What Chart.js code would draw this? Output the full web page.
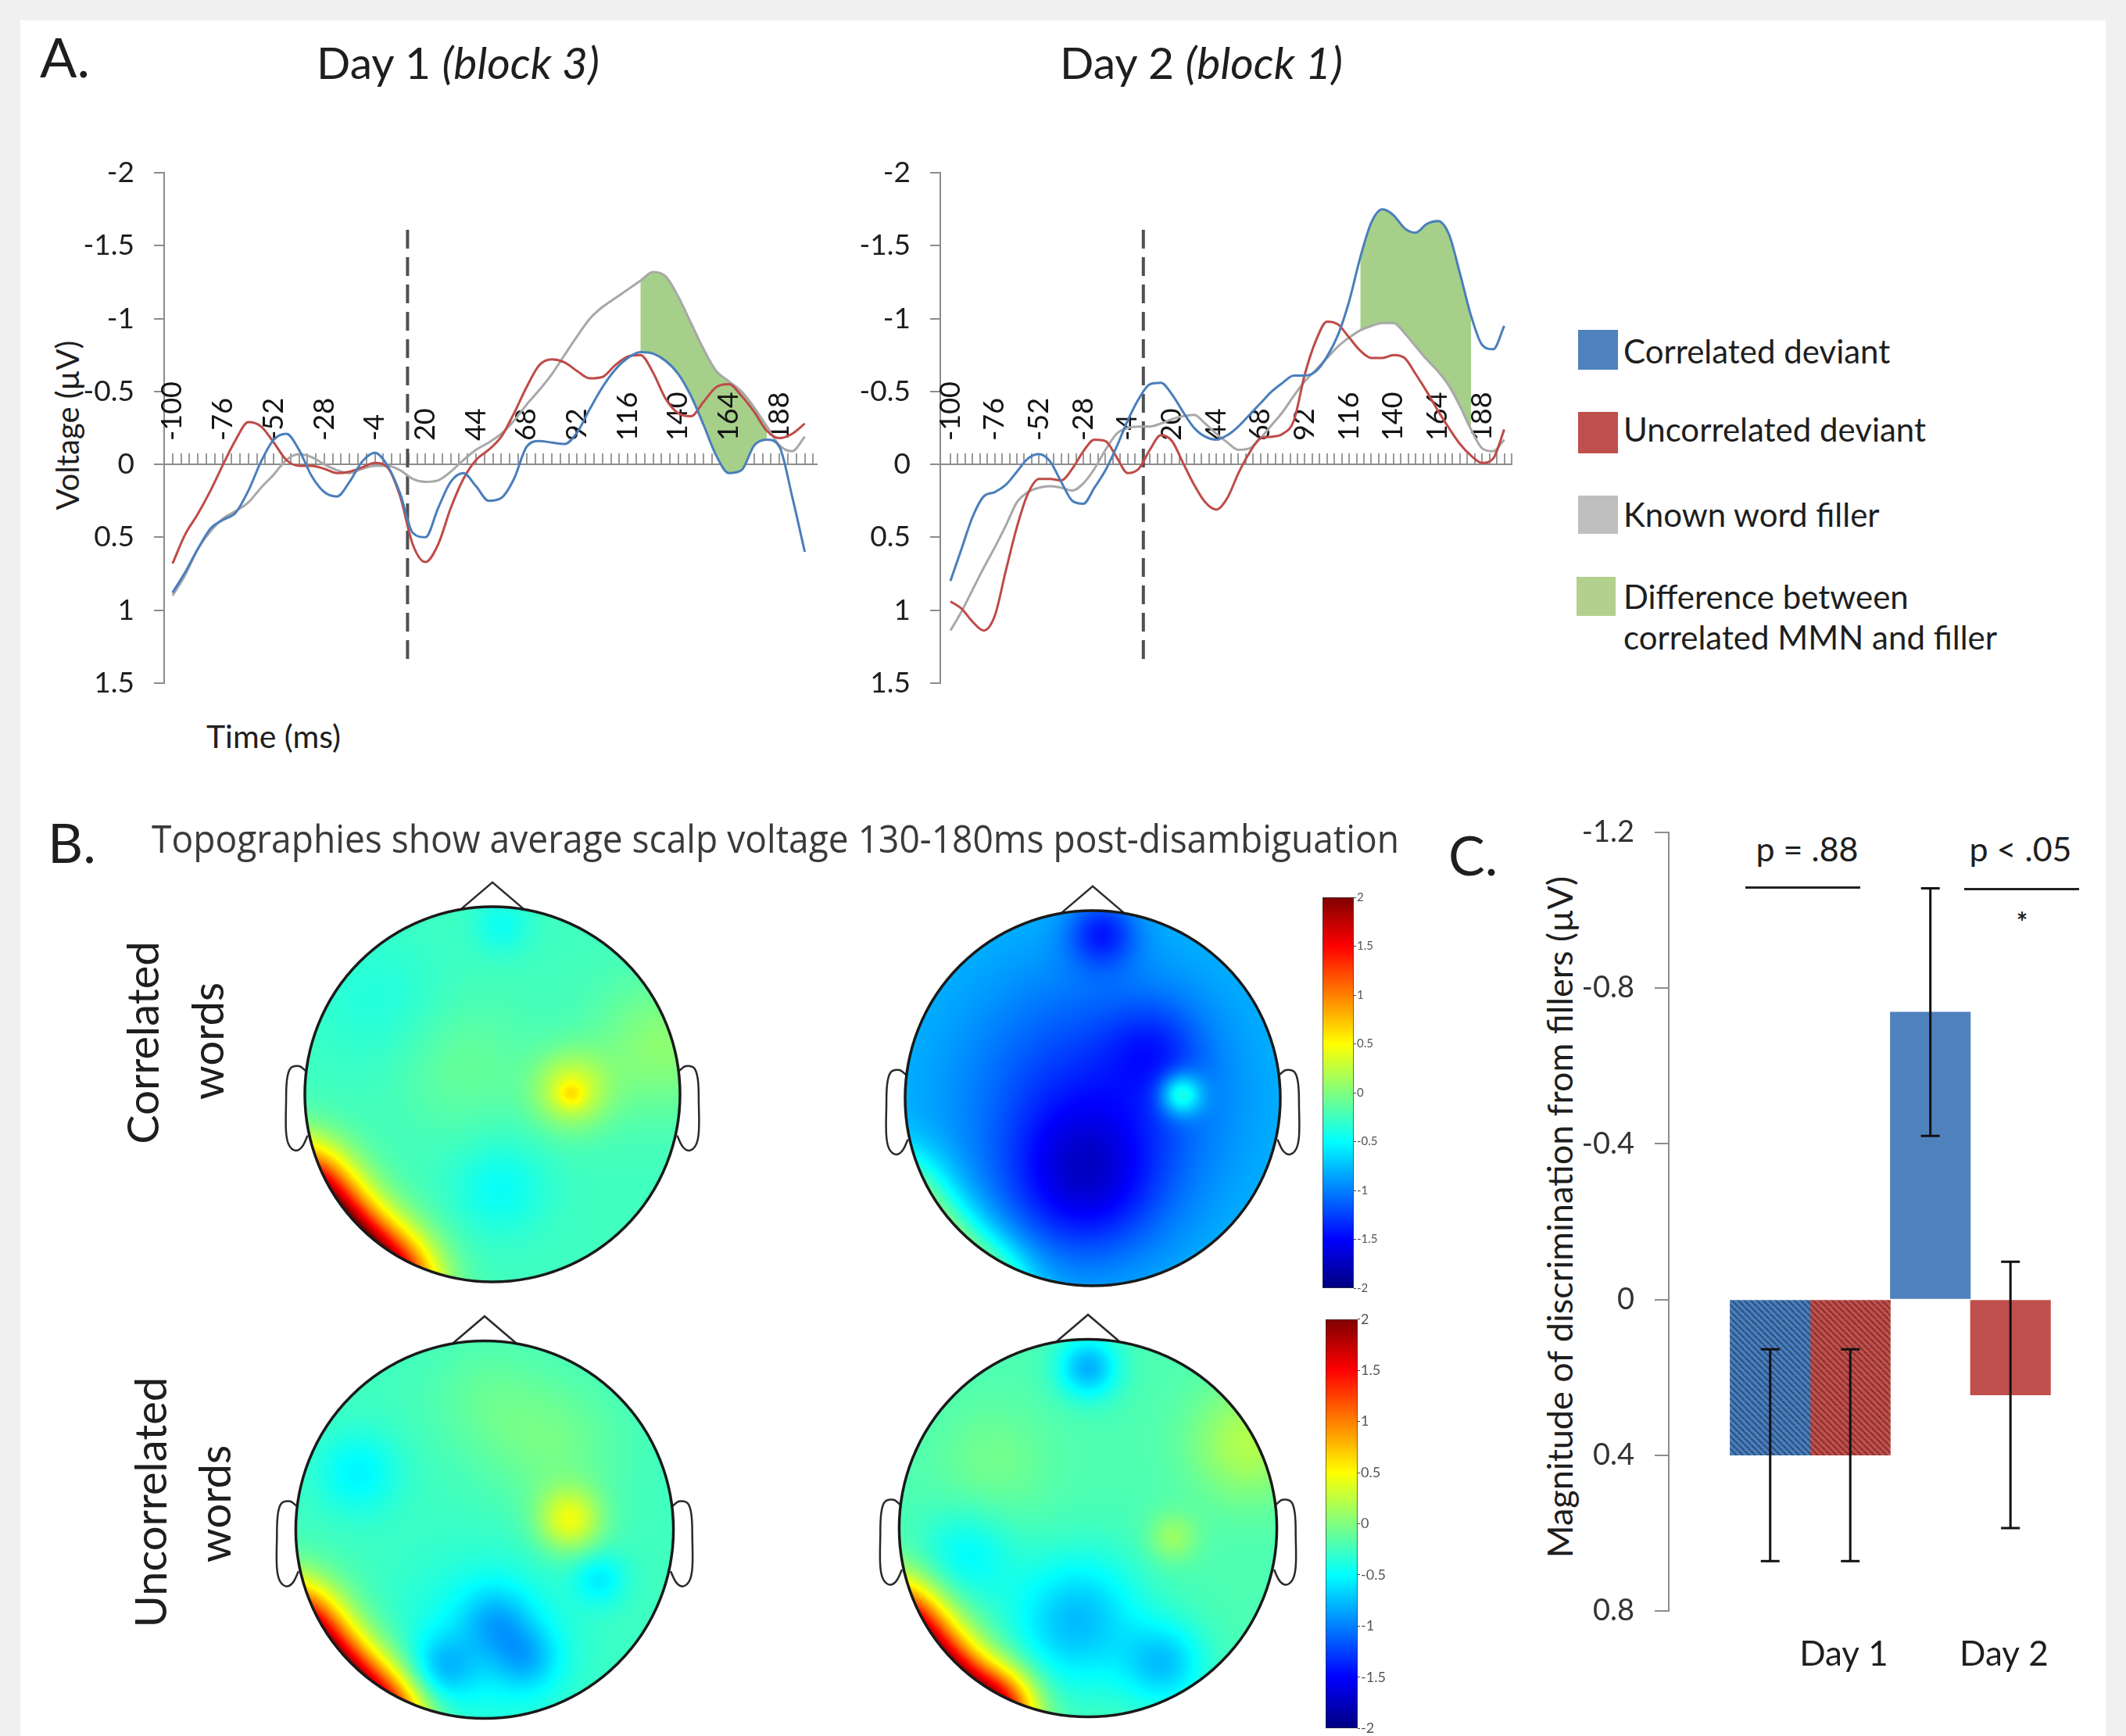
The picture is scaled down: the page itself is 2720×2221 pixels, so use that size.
<!DOCTYPE html>
<html><head><meta charset="utf-8">
<script src="https://cdn.jsdelivr.net/npm/chart.js@4.4.1/dist/chart.umd.min.js"></script>
<style>
html,body{margin:0;padding:0;}
body{width:2720px;height:2221px;background:#f0f0f0;position:relative;overflow:hidden;font-family:Lato,sans-serif;color:#1e1e1e;}
#panel{position:absolute;left:26px;top:26px;width:2668px;height:2195px;background:#fff;}
.t{position:absolute;white-space:nowrap;line-height:1;}
.c{transform:translateX(-50%);}
.rot{transform:translate(-50%,-50%) rotate(-90deg);}
canvas{position:absolute;}
.sq{position:absolute;}
.hl{position:absolute;height:3px;background:#222;}
</style></head><body>
<div id="panel"></div>

<div class="t" style="left:51px;top:37px;font-size:70px;">A.</div>
<div class="t c" style="left:586px;top:51px;font-size:57px;">Day 1 <i>(block 3)</i></div>
<div class="t c" style="left:1537px;top:51px;font-size:57px;">Day 2 <i>(block 1)</i></div>
<div class="t c" style="left:350px;top:921px;font-size:41px;">Time (ms)</div>
<div class="t rot" style="left:86px;top:544px;font-size:40px;">Voltage (µV)</div>

<div class="sq" style="left:2019px;top:422px;width:51px;height:51px;background:#4f81bd;"></div>
<div class="sq" style="left:2019px;top:527px;width:51px;height:53px;background:#c0504d;"></div>
<div class="sq" style="left:2019px;top:634px;width:51px;height:49px;background:#bfbfbf;"></div>
<div class="sq" style="left:2017px;top:738px;width:50px;height:50px;background:#b3d08e;"></div>
<div class="t" style="left:2077px;top:428px;font-size:42px;">Correlated deviant</div>
<div class="t" style="left:2077px;top:528px;font-size:42px;">Uncorrelated deviant</div>
<div class="t" style="left:2077px;top:637px;font-size:42px;">Known word filler</div>
<div class="t" style="left:2077px;top:742px;font-size:42px;">Difference between</div>
<div class="t" style="left:2077px;top:794px;font-size:42px;">correlated MMN and filler</div>

<div class="t" style="left:61px;top:1042px;font-size:70px;">B.</div>
<div id="btitle" class="t" style="left:194px;top:1047px;font-size:50px;font-family:'Open Sans',sans-serif;color:#3a3a3a;transform-origin:0 0;">Topographies show average scalp voltage 130-180ms post-disambiguation</div>
<div class="t rot" style="left:182px;top:1334px;font-size:56px;">Correlated</div>
<div class="t rot" style="left:265px;top:1332px;font-size:56px;">words</div>
<div class="t rot" style="left:192px;top:1922px;font-size:56px;">Uncorrelated</div>
<div class="t rot" style="left:274px;top:1924px;font-size:56px;">words</div>

<div class="t" style="left:1853px;top:1058px;font-size:70px;">C.</div>
<div class="t rot" style="left:1995px;top:1557px;font-size:45px;">Magnitude of discrimination from fillers (µV)</div>
<div class="t c" style="left:2312px;top:1064px;font-size:43px;">p = .88</div>
<div class="t c" style="left:2585px;top:1064px;font-size:43px;">p &lt; .05</div>
<div class="hl" style="left:2233px;top:1134px;width:147px;"></div>
<div class="hl" style="left:2513px;top:1136px;width:147px;"></div>
<div class="t c" style="left:2587px;top:1162px;font-size:34px;font-weight:bold;">*</div>

<canvas id="cA1" width="1040" height="747" style="left:30px;top:174px;"></canvas>
<canvas id="cA2" width="936" height="747" style="left:1023px;top:174px;"></canvas>
<canvas id="topo1" width="600" height="600" style="left:330px;top:1100px;"></canvas>
<canvas id="topo2" width="600" height="600" style="left:1098px;top:1105px;"></canvas>
<canvas id="topo3" width="604" height="604" style="left:318px;top:1655px;"></canvas>
<canvas id="topo4" width="604" height="604" style="left:1090px;top:1653px;"></canvas>
<canvas id="cb1" width="100" height="520" style="left:1692px;top:1138px;"></canvas>
<canvas id="cb2" width="101" height="547" style="left:1696px;top:1676px;"></canvas>
<canvas id="cC" width="700" height="1130" style="left:2000px;top:1016px;"></canvas>

<script>
// ---------------- DATA ----------------
// Panel A: time axis (ms) and ERP voltages (µV)
const timesMs = [-100,-94,-88,-82,-76,-70,-64,-58,-52,-46,-40,-34,-28,-22,-16,-10,-4,2,8,14,20,26,32,38,44,50,56,62,68,74,80,86,92,98,104,110,116,122,128,134,140,146,152,158,164,170,176,182,188,194,200];
const timeTickLabels = [-100,-76,-52,-28,-4,20,44,68,92,116,140,164,188];
const voltTicks = [-2,-1.5,-1,-0.5,0,0.5,1,1.5];

const day1Correlated = [0.88,0.74,0.58,0.44,0.38,0.33,0.18,-0.02,-0.17,-0.21,-0.10,0.08,0.19,0.22,0.12,-0.02,-0.08,0.01,0.20,0.47,0.50,0.30,0.12,0.06,0.15,0.25,0.23,0.10,-0.12,-0.16,-0.15,-0.14,-0.22,-0.38,-0.53,-0.65,-0.73,-0.77,-0.76,-0.71,-0.62,-0.47,-0.27,-0.06,0.06,0.04,-0.13,-0.17,-0.12,0.22,0.60];
const day1Uncorrelated = [0.68,0.48,0.34,0.18,0.0,-0.17,-0.29,-0.26,-0.15,-0.03,0.01,0.01,0.03,0.06,0.05,0.02,-0.01,0.02,0.22,0.55,0.67,0.55,0.30,0.10,-0.03,-0.10,-0.19,-0.35,-0.53,-0.68,-0.72,-0.70,-0.64,-0.59,-0.60,-0.68,-0.74,-0.75,-0.63,-0.45,-0.35,-0.33,-0.43,-0.53,-0.55,-0.47,-0.36,-0.23,-0.18,-0.21,-0.28];
const day1Filler = [0.90,0.76,0.58,0.46,0.37,0.32,0.26,0.16,0.07,-0.03,-0.07,-0.05,0.0,0.04,0.06,0.03,0.01,0.01,0.04,0.10,0.12,0.11,0.05,-0.03,-0.10,-0.15,-0.21,-0.30,-0.41,-0.51,-0.62,-0.75,-0.88,-1.0,-1.08,-1.14,-1.20,-1.26,-1.32,-1.29,-1.15,-0.97,-0.79,-0.64,-0.57,-0.50,-0.39,-0.26,-0.13,-0.09,-0.19];

const day2Correlated = [0.80,0.58,0.36,0.22,0.19,0.14,0.05,-0.04,-0.07,-0.02,0.12,0.25,0.27,0.16,0.04,-0.12,-0.30,-0.45,-0.55,-0.56,-0.48,-0.36,-0.25,-0.19,-0.17,-0.20,-0.26,-0.34,-0.42,-0.50,-0.56,-0.61,-0.61,-0.64,-0.74,-0.89,-1.12,-1.42,-1.66,-1.75,-1.71,-1.62,-1.59,-1.65,-1.67,-1.58,-1.31,-1.02,-0.82,-0.79,-0.95];
const day2Uncorrelated = [0.94,0.99,1.08,1.14,1.04,0.73,0.43,0.20,0.10,0.10,0.11,0.03,-0.09,-0.17,-0.16,-0.05,0.06,0.03,-0.10,-0.20,-0.16,-0.01,0.14,0.26,0.31,0.23,0.06,-0.08,-0.18,-0.19,-0.21,-0.30,-0.62,-0.85,-0.98,-0.96,-0.87,-0.78,-0.73,-0.73,-0.75,-0.73,-0.62,-0.50,-0.37,-0.25,-0.14,-0.06,-0.01,-0.04,-0.24];
const day2Filler = [1.14,1.01,0.86,0.71,0.57,0.42,0.26,0.19,0.16,0.15,0.16,0.18,0.13,0.03,-0.10,-0.21,-0.25,-0.26,-0.26,-0.28,-0.31,-0.33,-0.34,-0.28,-0.21,-0.15,-0.10,-0.11,-0.18,-0.27,-0.36,-0.47,-0.57,-0.65,-0.73,-0.81,-0.87,-0.92,-0.95,-0.97,-0.97,-0.90,-0.81,-0.72,-0.64,-0.54,-0.40,-0.24,-0.11,-0.09,-0.17];

const fillWindowMs = [122, 182];          // shaded MMN window
const onsetDay1 = 11.5, onsetDay2 = 4.5;  // disambiguation point (dashed line), ms
const onsetSpan = [-1.61, 1.38];          // dashed line extent, µV

// Panel B: topographies (µV), colour range, and hotspots [x, y, delta µV, spread] in head units
const colorRange = [-2, 2];
const colorbarTicks = [-2,-1.5,-1,-0.5,0,0.5,1,1.5,2];
const topoCorrDay1Base = -0.25;
const topoCorrDay1Spots = [[0.42,0.02,0.6,0.2],[0.42,0.0,0.25,0.07],[-1.06,-0.563,2.7,0.27],[-0.863,-0.834,2.7,0.27],[-0.6,-1.039,2.6,0.27],[0.04,-0.5,-0.22,0.25],[0.05,0.9,-0.2,0.15],[-0.15,0.15,0.15,0.35],[0.9,0.25,0.3,0.35],[-0.6,0.5,-0.12,0.35]];
const topoCorrDay2Base = -0.75;
const topoCorrDay2Spots = [[0.0,0.0,-0.55,0.7],[-0.05,-0.45,-0.6,0.4],[0.05,0.88,-0.55,0.18],[0.33,0.26,-0.3,0.25],[0.47,0.02,0.8,0.11],[-1.06,-0.563,1.1,0.25],[-0.863,-0.834,1.1,0.25],[-0.6,-1.039,1.0,0.25]];
const topoUncDay1Base = -0.25;
const topoUncDay1Spots = [[0.45,0.05,0.65,0.17],[0.35,0.45,0.2,0.35],[0.0,0.7,0.12,0.3],[-0.67,0.3,-0.28,0.22],[-0.23,-0.74,-0.4,0.18],[0.06,-0.48,-0.35,0.19],[0.22,-0.68,-0.38,0.18],[0.0,-0.6,-0.25,0.45],[0.61,-0.26,-0.3,0.14],[-1.06,-0.563,2.7,0.26],[-0.863,-0.834,2.7,0.26],[-0.6,-1.039,2.5,0.26]];
const topoUncDay2Base = -0.2;
const topoUncDay2Spots = [[0.0,0.85,-0.6,0.16],[0.85,0.45,0.4,0.3],[0.45,-0.05,0.3,0.13],[-0.5,0.35,0.15,0.3],[-0.65,-0.15,-0.3,0.25],[-0.1,-0.55,-0.4,0.35],[0.4,-0.72,-0.5,0.22],[0.0,-0.4,-0.2,0.3],[-1.06,-0.563,2.6,0.26],[-0.863,-0.834,2.6,0.26],[-0.6,-1.039,2.4,0.26],[-0.45,-0.92,0.5,0.18]];
// head outline vertices (head units)
const noseOutline = [[-0.17,0.985],[0,1.13],[0.17,0.985]];
const leftEarOutline = [[-0.99,0.12],[-1.03,0.15],[-1.075,0.14],[-1.095,0.08],[-1.1,-0.05],[-1.1,-0.2],[-1.085,-0.27],[-1.05,-0.3],[-1.015,-0.28],[-0.985,-0.22]];
const rightEarOutline = [[0.99,0.12],[1.03,0.15],[1.075,0.14],[1.095,0.08],[1.1,-0.05],[1.1,-0.2],[1.085,-0.27],[1.05,-0.3],[1.015,-0.28],[0.985,-0.22]];

// Panel C: bars (µV), errors
const dayLabels = ['Day 1', 'Day 2'];
const dayPos = [1, 2];
const correlatedMean = [0.40, -0.738];
const correlatedErr = [0.272, 0.318];
const uncorrelatedMean = [0.40, 0.245];
const uncorrelatedErr = [0.272, 0.342];
const magTicks = [-1.2,-0.8,-0.4,0,0.4,0.8];

// ---------------- HELPERS ----------------
const COL = {blue:'#4a7ebb', red:'#be4b48', gray:'#a8a8a8', green:'#a6cf8a', axis:'#8c8c8c'};
function jet(n){ n=Math.max(0,Math.min(1,n)); const c=v=>Math.max(0,Math.min(1,v));
  return [c(Math.min(4*n-1.5,-4*n+4.5)), c(Math.min(4*n-0.5,-4*n+3.5)), c(Math.min(4*n+0.5,-4*n+2.5))]; }
const pts = arr => arr.map((v,i)=>({x:timesMs[i], y:v}));
const windowPts = arr => arr.map((v,i)=>({x:timesMs[i], y:(timesMs[i]>=fillWindowMs[0] && timesMs[i]<=fillWindowMs[1]) ? v : null}));

const timeLabelPlugin = {
  id:'timeLabels',
  beforeDatasetsDraw(chart){
    const o = chart.options.plugins.timeLabels; if(!o) return;
    const ctx = chart.ctx, xs = chart.scales.x, ys = chart.scales.y, y0 = ys.getPixelForValue(0);
    ctx.save(); ctx.font = '36px Lato'; ctx.fillStyle = '#141414'; ctx.textAlign='left'; ctx.textBaseline='middle';
    o.labels.forEach(t=>{ ctx.save(); ctx.translate(xs.getPixelForValue(t), y0 - o.gap); ctx.rotate(-Math.PI/2); ctx.fillText(String(t),0,0); ctx.restore(); });
    ctx.restore();
  }
};

function erpChart(id, blue, red, gray, onset, xMin, xMax){
  const minorTicks = []; for(let t=-100; t<=xMax; t+=4) minorTicks.push(t);
  return new Chart(document.getElementById(id), {
    type:'line',
    data:{ datasets:[
      {data:pts(blue), borderColor:COL.blue, borderWidth:3, pointRadius:0, cubicInterpolationMode:'monotone', fill:false},
      {data:pts(red), borderColor:COL.red, borderWidth:3, pointRadius:0, cubicInterpolationMode:'monotone', fill:false},
      {data:pts(gray), borderColor:COL.gray, borderWidth:3, pointRadius:0, cubicInterpolationMode:'monotone', fill:false},
      {data:windowPts(gray), borderWidth:0, borderColor:'rgba(0,0,0,0)', pointRadius:0, cubicInterpolationMode:'monotone', spanGaps:false, fill:'+1', backgroundColor:COL.green},
      {data:windowPts(blue), borderWidth:0, borderColor:'rgba(0,0,0,0)', pointRadius:0, cubicInterpolationMode:'monotone', spanGaps:false, fill:false},
      {data:[{x:onset,y:onsetSpan[0]},{x:onset,y:onsetSpan[1]}], borderColor:'#505050', borderWidth:4, borderDash:[24,11], pointRadius:0, fill:false}
    ]},
    options:{
      responsive:false, animation:false,
      layout:{padding:{left:0,right:25,top:40,bottom:40}},
      plugins:{legend:{display:false}, tooltip:{enabled:false}, filler:{drawTime:'beforeDatasetsDraw'}, timeLabels:{labels:timeTickLabels, gap:30}},
      scales:{
        x:{type:'linear', min:xMin, max:xMax, position:{y:0},
           afterBuildTicks:s=>{ s.ticks = minorTicks.map(v=>({value:v})); },
           ticks:{display:false},
           grid:{drawOnChartArea:false, drawTicks:true, tickLength:-15, color:'#9a9a9a', lineWidth:2},
           border:{color:COL.axis, width:2}},
        y:{type:'linear', reverse:true, min:-2, max:1.5,
           afterBuildTicks:s=>{ s.ticks = voltTicks.map(v=>({value:v})); },
           afterFit:s=>{ s.width = 180; },
           ticks:{font:{size:37,family:'Lato'}, color:'#1e1e1e', padding:25, callback:v=>String(v)},
           grid:{drawOnChartArea:false, tickLength:13, color:COL.axis, lineWidth:2},
           border:{color:COL.axis, width:2}}
      }
    },
    plugins:[timeLabelPlugin]
  });
}

const topoPlugin = {
  id:'topoField',
  beforeDatasetsDraw(chart){
    const o = chart.options.plugins.topoField; if(!o) return;
    const xs=chart.scales.x, ys=chart.scales.y, ca=chart.chartArea, ctx=chart.ctx;
    const w=Math.floor(ca.right-ca.left), h=Math.floor(ca.bottom-ca.top);
    const img = ctx.createImageData(w,h);
    for(let py=0; py<h; py++){
      const y = ys.getValueForPixel(ca.top+py+0.5);
      for(let px=0; px<w; px++){
        const x = xs.getValueForPixel(ca.left+px+0.5);
        if(x*x+y*y>1.0) continue;
        let v=o.base;
        for(const s of o.spots){ const dx=x-s[0], dy=y-s[1]; v += s[2]*Math.exp(-(dx*dx+dy*dy)/(s[3]*s[3])); }
        const c = jet((v-colorRange[0])/(colorRange[1]-colorRange[0]));
        const k=(py*w+px)*4; img.data[k]=c[0]*255; img.data[k+1]=c[1]*255; img.data[k+2]=c[2]*255; img.data[k+3]=255;
      }
    }
    ctx.putImageData(img, Math.round(ca.left), Math.round(ca.top));
  },
  afterDatasetsDraw(chart){
    const xs=chart.scales.x, ys=chart.scales.y, ctx=chart.ctx;
    const cx=xs.getPixelForValue(0), cy=ys.getPixelForValue(0), r=xs.getPixelForValue(1)-cx;
    ctx.save(); ctx.beginPath(); ctx.arc(cx,cy,r,0,Math.PI*2); ctx.lineWidth=3.5; ctx.strokeStyle='#1a1a1a'; ctx.stroke(); ctx.restore();
  }
};

function topoChart(id, base, spots){
  const outline = (arr, tension)=>({data:arr.map(p=>({x:p[0],y:p[1]})), showLine:true, borderColor:'#2a2a2a', borderWidth:2.5, pointRadius:0, tension:tension, fill:false});
  return new Chart(document.getElementById(id), {
    type:'scatter',
    data:{datasets:[outline(noseOutline,0), outline(leftEarOutline,0.35), outline(rightEarOutline,0.35)]},
    options:{responsive:false, animation:false, layout:{padding:0},
      plugins:{legend:{display:false}, tooltip:{enabled:false}, topoField:{base:base, spots:spots}},
      scales:{x:{display:false,min:-1.25,max:1.25}, y:{display:false,min:-1.25,max:1.25}}},
    plugins:[topoPlugin]
  });
}

function jetGradient(context){
  const ch=context.chart, ca=ch.chartArea; if(!ca) return '#80ff80';
  const g=ch.ctx.createLinearGradient(0,ca.bottom,0,ca.top);
  for(let i=0;i<=32;i++){ const c=jet(i/32); g.addColorStop(i/32,`rgb(${Math.round(c[0]*255)},${Math.round(c[1]*255)},${Math.round(c[2]*255)})`); }
  return g;
}
function colorbarChart(id, fontSize){
  return new Chart(document.getElementById(id), {
    type:'bar',
    data:{labels:[''], datasets:[{data:[[colorRange[0],colorRange[1]]], backgroundColor:jetGradient, borderColor:'#333', borderWidth:1, borderSkipped:false, barPercentage:1, categoryPercentage:1}]},
    options:{responsive:false, animation:false, layout:{padding:{top:10,bottom:10,left:0,right:0}},
      plugins:{legend:{display:false}, tooltip:{enabled:false}},
      scales:{x:{display:false},
        y:{position:'right', min:colorRange[0], max:colorRange[1],
           afterBuildTicks:s=>{ s.ticks = colorbarTicks.map(v=>({value:v})); },
           afterFit:s=>{ s.width = 60; },
           ticks:{font:{size:fontSize,family:'Lato'}, color:'#555', padding:1, callback:v=>String(v)},
           grid:{drawOnChartArea:false, tickLength:3, color:'#444'}, border:{display:false}}}}
  });
}

function hatch(base, stripe){
  const c=document.createElement('canvas'); c.width=8; c.height=8; const x=c.getContext('2d');
  x.fillStyle=base; x.fillRect(0,0,8,8); x.strokeStyle=stripe; x.lineWidth=2;
  [-8,0,8].forEach(k=>{ x.beginPath(); x.moveTo(k,0); x.lineTo(k+8,8); x.stroke(); });
  return x.createPattern(c,'repeat');
}
const errorBarPlugin = {
  id:'errorBars',
  afterDatasetsDraw(chart){
    const ctx=chart.ctx, ys=chart.scales.y;
    ctx.save(); ctx.strokeStyle='#111'; ctx.lineWidth=3;
    chart.data.datasets.forEach((ds,di)=>{
      chart.getDatasetMeta(di).data.forEach((bar,i)=>{
        const v=ds.data[i].y, e=ds.errors[i];
        const y1=ys.getPixelForValue(v-e), y2=ys.getPixelForValue(v+e), x=bar.x;
        ctx.beginPath(); ctx.moveTo(x,y1); ctx.lineTo(x,y2);
        ctx.moveTo(x-12,y1); ctx.lineTo(x+12,y1); ctx.moveTo(x-12,y2); ctx.lineTo(x+12,y2); ctx.stroke();
      });
    });
    ctx.restore();
  }
};
function magnitudeChart(){
  const hb=hatch('#4a7ebb','#2b4f7e'), hr=hatch('#c0504d','#86302e');
  return new Chart(document.getElementById('cC'), {
    type:'bar',
    data:{datasets:[
      {data:dayPos.map((x,i)=>({x:x,y:correlatedMean[i]})), errors:correlatedErr, backgroundColor:[hb,'#4f81bd'], barPercentage:1, categoryPercentage:1, borderWidth:0},
      {data:dayPos.map((x,i)=>({x:x,y:uncorrelatedMean[i]})), errors:uncorrelatedErr, backgroundColor:[hr,'#c0504d'], barPercentage:1, categoryPercentage:1, borderWidth:0}
    ]},
    options:{responsive:false, animation:false, layout:{padding:{top:40,right:20,left:0,bottom:0}},
      plugins:{legend:{display:false}, tooltip:{enabled:false}},
      scales:{
        x:{type:'linear', min:0.117, max:2.776, offset:false, bounds:'data', grace:0,
           afterBuildTicks:s=>{ s.ticks = dayPos.map(v=>({value:v})); },
           afterFit:s=>{ s.height = 85; },
           ticks:{font:{size:44,family:'Lato'}, color:'#1e1e1e', padding:29, labelOffset:43, maxRotation:0, autoSkip:false, callback:v=>dayLabels[dayPos.indexOf(v)]},
           grid:{display:false, drawTicks:false, offset:false}, border:{display:false}},
        y:{type:'linear', reverse:true, min:-1.2, max:0.8,
           afterBuildTicks:s=>{ s.ticks = magTicks.map(v=>({value:v})); },
           afterFit:s=>{ s.width = 135; },
           ticks:{font:{size:38,family:'Lato'}, color:'#333', padding:26, callback:v=>String(v)},
           grid:{drawOnChartArea:false, tickLength:18, color:COL.axis, lineWidth:2},
           border:{color:COL.axis, width:2}}
      }},
    plugins:[errorBarPlugin]
  });
}

function build(){
  Chart.defaults.font.family = 'Lato';
  Chart.defaults.color = '#1e1e1e';
  erpChart('cA1', day1Correlated, day1Uncorrelated, day1Filler, onsetDay1, -104, 205.7);
  erpChart('cA2', day2Correlated, day2Uncorrelated, day2Filler, onsetDay2, -105.5, 204);
  topoChart('topo1', topoCorrDay1Base, topoCorrDay1Spots);
  topoChart('topo2', topoCorrDay2Base, topoCorrDay2Spots);
  topoChart('topo3', topoUncDay1Base, topoUncDay1Spots);
  topoChart('topo4', topoUncDay2Base, topoUncDay2Spots);
  colorbarChart('cb1', 15);
  colorbarChart('cb2', 18);
  magnitudeChart();
  const bt=document.getElementById('btitle');
  bt.style.transform='scaleX('+(1596/bt.getBoundingClientRect().width)+')';
}
Promise.all(['36px Lato','italic 57px Lato','bold 34px Lato','50px "Open Sans"'].map(f=>document.fonts.load(f))).then(build, build);
</script>
</body></html>
